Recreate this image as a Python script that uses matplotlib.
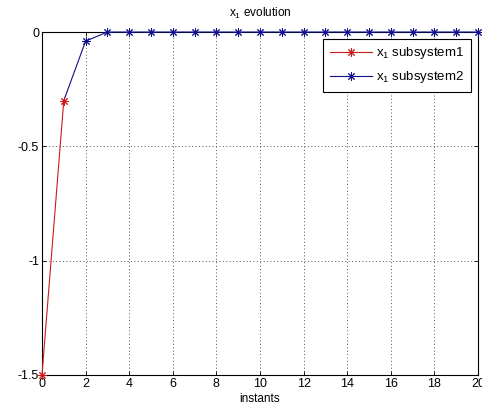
import matplotlib
matplotlib.use("Agg")
import matplotlib.pyplot as plt

# x1 trajectory, split by active subsystem
t_sub1 = [0, 1]
x_sub1 = [-1.5, -0.3]
t_sub2 = [1, 2, 3, 4, 5, 6, 7, 8, 9, 10, 11, 12, 13, 14, 15, 16, 17, 18, 19, 20]
x_sub2 = [-0.3, -0.04, 0, 0, 0, 0, 0, 0, 0, 0, 0, 0, 0, 0, 0, 0, 0, 0, 0, 0]

xticks = [0, 2, 4, 6, 8, 10, 12, 14, 16, 18, 20]
yticks = [-1.5, -1, -0.5, 0]
ytick_labels = ["-1.5", "-1", "-0.5", "0"]

plt.rcParams["font.family"] = ["Liberation Sans", "DejaVu Sans"]
plt.rcParams["mathtext.fontset"] = "custom"
plt.rcParams["mathtext.rm"] = "Liberation Sans"

fig = plt.figure(figsize=(4.82, 4.11), dpi=100)
ax = fig.add_axes([0.0871, 0.0876, 0.9046, 0.8345])

red = "#d01818"
blue = "#10108a"
asterisk = (8, 2, 0)  # matlab-style '*' marker

# blue series starts at t=1 so the line links up; no marker on the shared point
l2, = ax.plot(t_sub2, x_sub2, color=blue, lw=0.8, marker=asterisk, ms=6,
              mew=0.7, markevery=list(range(1, len(t_sub2))),
              label="x$_1$ subsystem2", clip_on=False, zorder=3)
l1, = ax.plot(t_sub1, x_sub1, color=red, lw=0.8, marker=asterisk, ms=6,
              mew=0.7, label="x$_1$ subsystem1", clip_on=False, zorder=4)

ax.set_xlim(0, 20)
ax.set_ylim(-1.5, 0)
ax.set_xticks(xticks)
ax.set_yticks(yticks)
ax.set_yticklabels(ytick_labels)
ax.tick_params(direction="in", top=True, right=True, labelsize=9, length=3,
               width=0.6, pad=2)
ax.grid(True, linestyle=(0, (1, 2.5)), color="#555555", lw=0.7)
for s in ax.spines.values():
    s.set_linewidth(0.8)

ax.set_title("x$_1$ evolution", fontsize=8.5, pad=11)
ax.set_xlabel("instants", fontsize=8.5, labelpad=2)

leg = ax.legend(handles=[l1, l2], loc="upper right", fontsize=9.5,
                bbox_to_anchor=(0.984, 0.98), borderaxespad=0, fancybox=False,
                framealpha=1, edgecolor="black", handlelength=3.2,
                borderpad=0.5, labelspacing=0.6, handletextpad=0.35)
leg.get_frame().set_linewidth(0.8)

fig.savefig("out.png", dpi=100)
